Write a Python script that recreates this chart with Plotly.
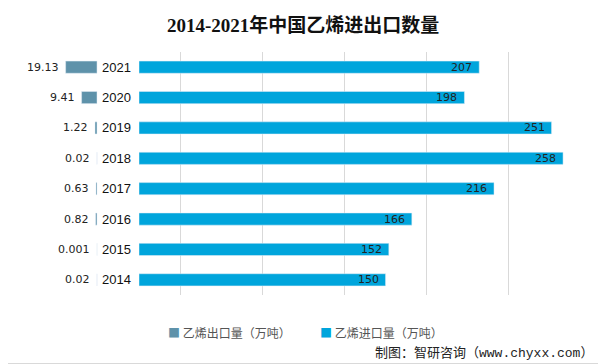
import plotly.graph_objects as go

# page is rendered with an 8px body margin; figure occupies 598x356 of the 606x364 window
OFF = 8
W, H = 606 - OFF, 364 - OFF


def px(X):
    return (X - OFF) / W


def py(Y):
    return 1 - (Y - OFF) / H


years = ["2014", "2015", "2016", "2017", "2018", "2019", "2020", "2021"]
export_vals = [0.02, 0.001, 0.82, 0.63, 0.02, 1.22, 9.41, 19.13]
export_labels = ["0.02", "0.001", "0.82", "0.63", "0.02", "1.22", "9.41", "19.13"]
import_vals = [150, 152, 166, 216, 258, 251, 198, 207]
import_labels = [str(v) for v in import_vals]

title_text = "2014-2021年中国乙烯进出口数量"
export_name = "乙烯出口量（万吨）"
import_name = "乙烯进口量（万吨）"
source_text = "制图：智研咨询（www.chyxx.com）"

c_exp = "#5E92AA"
c_imp = "#00A5DC"
num_font = dict(family="DejaVu Sans, Noto Sans CJK SC", size=11, color="#222222")

fig = go.Figure()
fig.add_trace(go.Bar(y=years, x=export_vals, orientation="h", marker_color=c_exp,
                     xaxis="x", yaxis="y", showlegend=False, hoverinfo="skip", name=export_name))
fig.add_trace(go.Bar(y=years, x=import_vals, orientation="h", marker_color=c_imp,
                     xaxis="x2", yaxis="y", showlegend=False, hoverinfo="skip", name=import_name))

ann = []
for i, (v, t) in enumerate(zip(export_vals, export_labels)):
    ann.append(dict(x=v, y=i, xref="x", yref="y", text=t, showarrow=False,
                    xanchor="right", xshift=-5, font=num_font))
for i, (v, t) in enumerate(zip(import_vals, import_labels)):
    ann.append(dict(x=v, y=i, xref="x2", yref="y", text=t, showarrow=False,
                    xanchor="right", xshift=-5, font=num_font))
for i, yr in enumerate(years):
    ann.append(dict(x=px(100), y=i, xref="paper", yref="y", text=yr, showarrow=False,
                    xanchor="left",
                    font=dict(family="Liberation Sans, Noto Sans CJK SC", size=13, color="#111111")))
ann.append(dict(x=px(303), y=py(25), xref="paper", yref="paper", text="<b>" + title_text + "</b>",
                showarrow=False, xanchor="center", yanchor="middle",
                font=dict(family="Liberation Serif, Noto Sans CJK SC", size=19, color="#111111")))
ann.append(dict(x=px(595), y=py(353), xref="paper", yref="paper", text=source_text,
                showarrow=False, xanchor="right", yanchor="middle",
                font=dict(family="Liberation Mono, Noto Sans CJK SC", size=13, color="#222222")))
# legend
for xpos, col, name in [(166, c_exp, export_name), (318, c_imp, import_name)]:
    ann.append(dict(x=px(xpos), y=py(332), xref="paper", yref="paper",
                    text="<span style='color:%s'>■</span> %s" % (col, name),
                    showarrow=False, xanchor="left", yanchor="middle",
                    font=dict(family="Noto Sans CJK SC", size=12, color="#555555")))

fig.update_layout(
    width=W, height=H,
    margin=dict(l=0, r=0, t=0, b=0),
    paper_bgcolor="white", plot_bgcolor="white",
    bargap=0.6, showlegend=False,
    xaxis=dict(domain=[px(14), px(98)], range=[50.6, -0.6], tick0=0, dtick=50,
               showgrid=True, gridcolor="#D9D9D9", gridwidth=1, zeroline=False,
               showticklabels=False, showline=False, anchor="y"),
    xaxis2=dict(domain=[px(139), px(591)], range=[0, 275], tick0=25, dtick=50,
                showgrid=True, gridcolor="#D9D9D9", gridwidth=1, zeroline=False,
                showticklabels=False, showline=False, anchor="y"),
    yaxis=dict(type="category", domain=[py(295), py(52)],
               categoryorder="array", categoryarray=years, range=[-0.5, len(years) - 0.5],
               showticklabels=False, showgrid=False, zeroline=False, showline=False, anchor="x"),
    annotations=ann,
    shapes=[dict(type="line", xref="paper", yref="paper", x0=1, x1=1, y0=0, y1=1,
                 line=dict(color="#D9D9D9", width=2)),
            dict(type="line", xref="paper", yref="paper", x0=0, x1=1, y0=0, y1=0,
                 line=dict(color="#D9D9D9", width=2))],
)

fig.write_html("out.html")
